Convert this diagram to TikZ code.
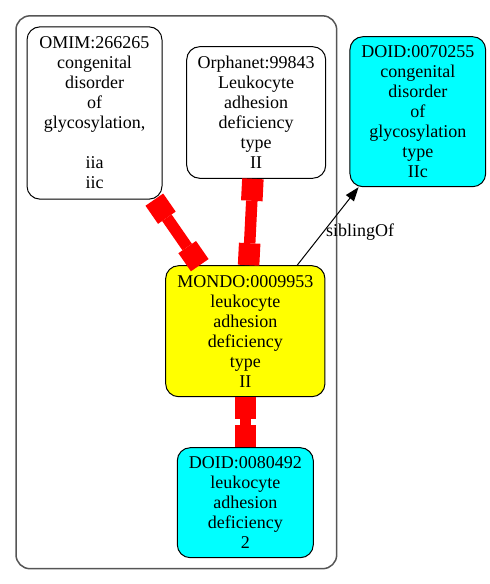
\documentclass[tikz,border=0pt]{standalone}
\usepackage{fontspec}
\setmainfont{Liberation Serif}
\usetikzlibrary{arrows.meta,positioning,fit,backgrounds}
\definecolor{hubfill}{HTML}{FFFF00}
\definecolor{xreffill}{HTML}{00FFFF}
\definecolor{teered}{HTML}{FF0000}
\definecolor{grpline}{HTML}{555555}

\begin{document}
\begin{tikzpicture}[x=1pt,y=1pt,
  box/.style={draw=black,fill=white,line width=1pt,rounded corners=13pt,inner sep=0pt,
              align=center,font=\fontsize{18}{20}\selectfont},
  hub/.style={box,fill=hubfill},
  xref/.style={box,fill=xreffill},
  tee/.style={draw=teered,line width=11.5pt,
              {Rectangle[length=22pt,width=21.5pt,line width=0pt]}-{Rectangle[length=22pt,width=21.5pt,line width=0pt]}},
  arr/.style={draw=black,line width=1pt,-{Triangle[length=14pt,width=10pt]}},
  lab/.style={font=\fontsize{18}{20}\selectfont,inner sep=2pt},
  grp/.style={draw=grpline,line width=1.5pt,rounded corners=14pt,inner sep=10.5pt}
]
\useasboundingbox (0,0) rectangle (490,584);
\node[box,minimum width=135pt,minimum height=172.3pt] (omim) at (94.5,471)
  {OMIM:266265\\congenital\\disorder\\of\\glycosylation,\\[20pt]iia\\iic};
\node[box,minimum width=139pt,minimum height=131.6pt] (orpha) at (256.2,471.5)
  {Orphanet:99843\\Leukocyte\\adhesion\\deficiency\\type\\II};
\node[xref,minimum width=135.7pt,minimum height=150pt] (doida) at (417.8,472.3)
  {DOID:0070255\\congenital\\disorder\\of\\glycosylation\\type\\IIc};
\node[hub,minimum width=159.3pt,minimum height=131pt] (mondo) at (245.3,252.8)
  {MONDO:0009953\\leukocyte\\adhesion\\deficiency\\type\\II};
\node[xref,minimum width=136pt,minimum height=110pt,below=50pt of mondo] (doidb)
  {DOID:0080492\\leukocyte\\adhesion\\deficiency\\2};
\begin{scope}[on background layer]
\node[grp,fit=(omim)(orpha)(mondo)(doidb)] (clu) {};
\end{scope}
\draw[tee] (omim) -- (mondo);
\draw[tee] (orpha) -- (mondo);
\draw[tee] (mondo) -- (doidb);
\draw[arr] (mondo) -- node[lab,pos=.43,anchor=west] (sib) {siblingOf} (doida);
\end{tikzpicture}
\end{document}
